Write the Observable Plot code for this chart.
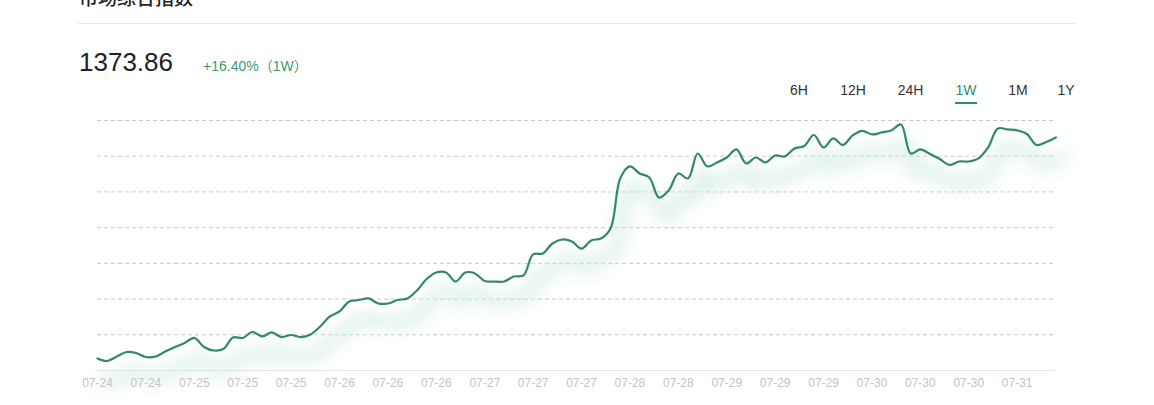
<!DOCTYPE html>
<html>
<head>
<meta charset="utf-8">
<script src="https://cdn.jsdelivr.net/npm/d3@7"></script>
<script src="https://cdn.jsdelivr.net/npm/@observablehq/plot@0.6"></script>
<style>
  html, body { margin: 0; padding: 0; background: #fff; }
  body { width: 1154px; height: 405px; position: relative; overflow: hidden;
         font-family: "Liberation Sans", "Noto Sans CJK SC", sans-serif; }
  #title { position: absolute; left: 79px; top: -15px; font-size: 19px; font-weight: 500; color: #222;
           font-family: "Noto Sans CJK SC", sans-serif; line-height: 24px; }
  #rule { position: absolute; left: 78px; top: 23px; width: 998px; height: 1px; background: #e8e8e8; }
  #value { position: absolute; left: 79px; top: 47px; font-size: 26px; color: #222; line-height: 30px; }
  #change { position: absolute; left: 203px; top: 57px; font-size: 14px; color: #3a9a70; line-height: 18px; }
  .tab { position: absolute; top: 81px; font-size: 14px; color: #333; line-height: 18px; transform: translateX(-50%); }
  .tab.active { color: #2e8b6e; }
  #underline { position: absolute; left: 955px; top: 102px; width: 22px; height: 2px; background: #2e8b6e; }
  #chart { position: absolute; left: 0; top: 110px; }
</style>
</head>
<body>
<div id="title"></div>
<div id="rule"></div>
<div id="value"></div>
<div id="change"></div>
<div id="tabs"></div>
<div id="underline"></div>
<div id="chart"></div>
<script>
const titleText = "市场综合指数";
const currentValue = "1373.86";
const changeText = "+16.40%（1W）";
const periods = ["6H", "12H", "24H", "1W", "1M", "1Y"];
const activePeriod = "1W";

const tickLabels = ["07-24","07-24","07-25","07-25","07-25","07-26","07-26","07-26","07-27","07-27",
                    "07-27","07-28","07-28","07-29","07-29","07-29","07-30","07-30","07-30","07-31"];

const indexValues = [
  1180.3, 1178.1, 1182.1, 1186.0, 1185.1, 1181.6, 1182.1, 1186.4, 1190.4, 1193.9,
  1198.3, 1190.4, 1187.3, 1188.6, 1198.7, 1198.3, 1203.5, 1199.6, 1203.1, 1199.1,
  1200.9, 1199.1, 1201.3, 1208.3, 1217.1, 1221.5, 1230.2, 1231.5, 1232.9, 1228.5,
  1228.5, 1231.5, 1232.9, 1239.9, 1249.9, 1255.6, 1255.6, 1247.7, 1255.6, 1254.8,
  1248.2, 1247.7, 1247.7, 1252.1, 1253.0, 1271.4, 1272.3, 1281.0, 1284.5, 1282.8,
  1276.6, 1283.7, 1285.4, 1294.2, 1338.0, 1348.5, 1342.3, 1338.8, 1321.3, 1327.4,
  1342.3, 1338.0, 1359.8, 1348.5, 1352.0, 1356.3, 1363.4, 1351.1, 1356.3, 1352.0,
  1358.1, 1357.2, 1364.2, 1366.4, 1376.0, 1365.1, 1373.0, 1367.3, 1375.6, 1379.6,
  1376.5, 1378.2, 1380.0, 1385.2, 1359.8, 1363.4, 1359.4, 1355.0, 1349.8, 1352.8,
  1352.8, 1355.5, 1365.1, 1381.7, 1380.9, 1380.0, 1376.9, 1367.3, 1369.9, 1373.86
];

const yMin = 1169.8, yMax = 1388.7;
const gridCount = 7;

document.getElementById("title").textContent = titleText;
document.getElementById("value").textContent = currentValue;
document.getElementById("change").textContent = changeText;
const tabCenters = [799, 853, 910.5, 966, 1018, 1066];
const tabsDiv = document.getElementById("tabs");
periods.forEach((p, i) => {
  const d = document.createElement("div");
  d.className = "tab" + (p === activePeriod ? " active" : "");
  d.style.left = tabCenters[i] + "px";
  d.textContent = p;
  tabsDiv.appendChild(d);
});

const data = indexValues.map((v, i) => ({i, v}));
const labelStep = 5;
const gridValues = d3.range(1, gridCount + 1).map(k => yMin + k * (yMax - yMin) / gridCount);

const plot = Plot.plot({
  width: 1154,
  height: 295,
  marginTop: 10,
  marginBottom: 35,
  marginLeft: 97,
  marginRight: 98.6,
  style: {background: "transparent", fontFamily: "Liberation Sans, sans-serif"},
  x: {domain: [0, indexValues.length - 1], label: null, axis: null},
  y: {domain: [yMin, yMax], axis: null},
  marks: [
    Plot.ruleY(gridValues, {stroke: "#c9c9c9", strokeWidth: 1, strokeDasharray: "4,3"}),
    Plot.ruleY([yMin], {stroke: "#e6e6e6", strokeWidth: 1}),
    Plot.line(data, {x: "i", y: "v", curve: "catmull-rom", stroke: "#cce9de", strokeWidth: 12, strokeOpacity: 0.7, dx: 6, dy: 20}),
    Plot.line(data, {x: "i", y: "v", curve: "catmull-rom", stroke: "#33876c", strokeWidth: 2.2}),
    Plot.axisX({
      ticks: d3.range(0, indexValues.length, labelStep),
      tickFormat: i => tickLabels[i / labelStep],
      tickSize: 0,
      tickPadding: 8,
      fontSize: 12,
      color: "#c4c4c4",
      label: null
    })
  ]
});

const svg = d3.select(plot);
const defs = svg.insert("defs", ":first-child");
const f = defs.append("filter").attr("id", "shadowBlur")
  .attr("x", "-5%").attr("y", "-60%").attr("width", "110%").attr("height", "220%");
f.append("feGaussianBlur").attr("stdDeviation", 8);
const lineGroups = svg.selectAll('g[aria-label="line"]').nodes();
if (lineGroups.length) d3.select(lineGroups[0]).attr("filter", "url(#shadowBlur)");

document.getElementById("chart").appendChild(plot);
</script>
</body>
</html>
